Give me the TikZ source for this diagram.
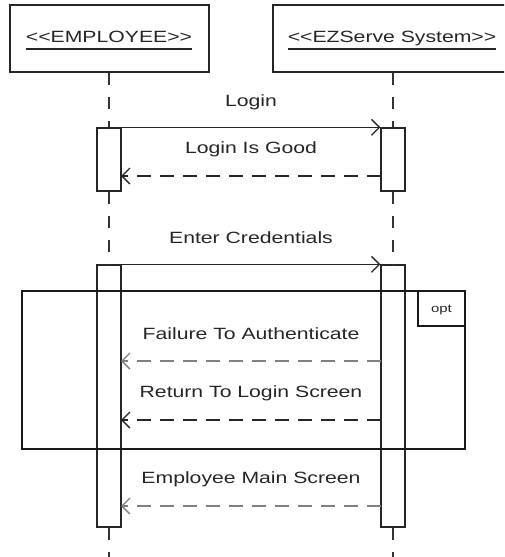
\documentclass[tikz,border=0pt]{standalone}
\usepackage{fontspec}
\setmainfont{Liberation Sans}
\usetikzlibrary{arrows.meta}
\newcommand{\wtxt}[1]{\scalebox{1.3}[1]{#1}}
\begin{document}
\begin{tikzpicture}[x=1pt,y=-1pt,
  txt/.style={inner sep=0pt, anchor=base, text=black!85, font=\fontsize{16.3}{19}\selectfont},
  headbox/.style={draw=black!85, line width=1.4pt, minimum height=67pt, inner sep=0pt},
  actbox/.style={draw=black!85, fill=white, line width=1.3pt, minimum width=24pt, inner sep=0pt},
  life/.style={draw=black!80, line width=1.3pt, dash pattern=on 12pt off 12pt},
  msg/.style={draw=black!85, line width=1.4pt, -{Straight Barb[length=8pt,width=16pt,line width=1.3pt]}},
  reply/.style={msg, dash pattern=on 14pt off 9pt},
  greyreply/.style={reply, draw=black!50},
  frame/.style={draw=black!90, line width=1.3pt}
]
\useasboundingbox (0,0) rectangle (504,557);
\clip (0,0) rectangle (504,557);

% header boxes
\node[headbox, minimum width=199pt] (hboxL) at (109.5,38.5) {};
\node[headbox, minimum width=240pt] (hboxR) at (393,38.5) {};
\node[txt] (hL) at (109,42) {\wtxt{<{}<EMPLOYEE>{}>}};
\node[txt] (hR) at (392,42) {\wtxt{<{}<EZServe System>{}>}};
\draw[line width=1.5pt, black!85] ([yshift=-7pt]hL.base west) -- ([yshift=-7pt]hL.base east);
\draw[line width=1.5pt, black!85] ([yshift=-7pt]hR.base west) -- ([yshift=-7pt]hR.base east);

% activation boxes
\node[actbox, minimum height=63pt] (a1L) at (109,159.5) {};
\node[actbox, minimum height=63pt] (a1R) at (393,159.5) {};
\node[actbox, minimum height=262pt] (a2L) at (109,396) {};
\node[actbox, minimum height=262pt] (a2R) at (393,396) {};
\coordinate (endL) at (109,560);
\coordinate (endR) at (393,560);

% lifelines
\draw[life] (hboxL.south -| a1L.north) -- (a1L.north);
\draw[life] (hboxR.south -| a1R.north) -- (a1R.north);
\draw[life] (a1L.south) -- (a2L.north);
\draw[life] (a1R.south) -- (a2R.north);
\draw[life] (a2L.south) -- (endL);
\draw[life] (a2R.south) -- (endR);

% messages
\node[txt] (tLogin) at (251,106) {\wtxt{Login}};
\draw[msg] (a1L.north east) -- (a1R.north west);

\node[txt] (tGood) at (251,153) {\wtxt{Login Is Good}};
\coordinate (gR) at (381,176);
\coordinate (gL) at (121,176);
\draw[reply] (gR) -- (gL);

\node[txt] (tCred) at (251,243) {\wtxt{Enter Credentials}};
\draw[msg] (a2L.north east) -- (a2R.north west);

% opt frame
\node[frame, minimum width=443pt, minimum height=158pt, inner sep=0pt] (opt) at (243.5,370) {};
\node[frame, anchor=north east, minimum width=47pt, minimum height=35pt, inner sep=0pt] (optTag) at (opt.north east) {};
\node[txt, font=\fontsize{11.5}{13}\selectfont] (tOpt) at (441.5,312) {\wtxt{opt}};

\node[txt] (tFail) at (251,339) {\wtxt{Failure To Authenticate}};
\coordinate (fR) at (381,361);
\coordinate (fL) at (121,361);
\draw[greyreply] (fR) -- (fL);

\node[txt] (tRet) at (251,397) {\wtxt{Return To Login Screen}};
\coordinate (rR) at (381,420);
\coordinate (rL) at (121,420);
\draw[reply] (rR) -- (rL);

\node[txt] (tMain) at (251,483) {\wtxt{Employee Main Screen}};
\coordinate (mR) at (381,506);
\coordinate (mL) at (121,506);
\draw[greyreply] (mR) -- (mL);
\end{tikzpicture}
\end{document}
